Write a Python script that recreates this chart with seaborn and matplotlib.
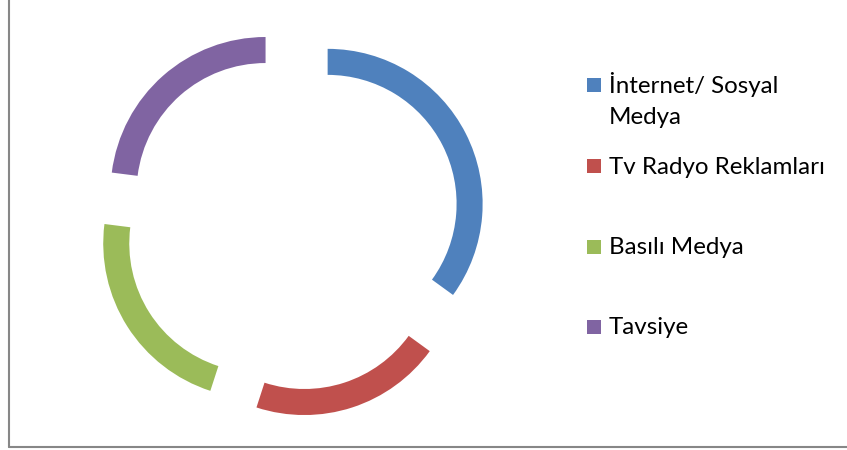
import numpy as np
import pandas as pd
import seaborn as sns
import matplotlib.pyplot as plt
from matplotlib.patches import Rectangle
from matplotlib.lines import Line2D

# data (share of each source, %)
categories = ["İnternet/ Sosyal\nMedya", "Tv Radyo Reklamları", "Basılı Medya", "Tavsiye"]
values = [35, 20, 22, 23]
colors = ["#4F81BD", "#C0504D", "#9BBB59", "#8064A2"]

sns.set_theme(style="white")
plt.rcParams["font.family"] = ["Lato", "DejaVu Sans"]

W, H = 847, 450
fig = plt.figure(figsize=(W / 100, H / 100), dpi=100)

# ring centre at about (292, 222) px, 155 px per data unit
lim = 1.4
scale = 155
cx, cy = 292, 222
half = lim * scale
ax = fig.add_axes([(cx - half) / W, (H - cy - half) / H, 2 * half / W, 2 * half / H])
ax.pie(values, colors=sns.color_palette(colors), startangle=90, counterclock=False,
       explode=[0.258] * len(values), radius=1,
       wedgeprops=dict(width=0.168, linewidth=0))
ax.set_xlim(-lim, lim)
ax.set_ylim(-lim, lim)
ax.set_aspect("equal")
ax.axis("off")

# legend drawn by hand so the marker sits on the first text line
leg_y = [85, 166, 247, 327]
pitch = 31
for lab, col, y in zip(categories, colors, leg_y):
    fig.add_artist(Rectangle((587 / W, (H - y - 7) / H), 14 / W, 14 / H,
                             transform=fig.transFigure, color=col, lw=0))
    base = y + 7.5 + lab.count("\n") * pitch
    fig.text(609 / W, (H - base) / H, lab, fontsize=17.4, color="#000000",
             va="baseline", ha="left", linespacing=1.54)

# chart area border (left + bottom visible)
fig.add_artist(Line2D([9 / W, 9 / W], [(H - 447) / H, 1], transform=fig.transFigure,
                      color="#878787", lw=1.5))
fig.add_artist(Line2D([9 / W, 1], [(H - 447) / H, (H - 447) / H], transform=fig.transFigure,
                      color="#878787", lw=1.5))

fig.savefig("out.png", dpi=100)
